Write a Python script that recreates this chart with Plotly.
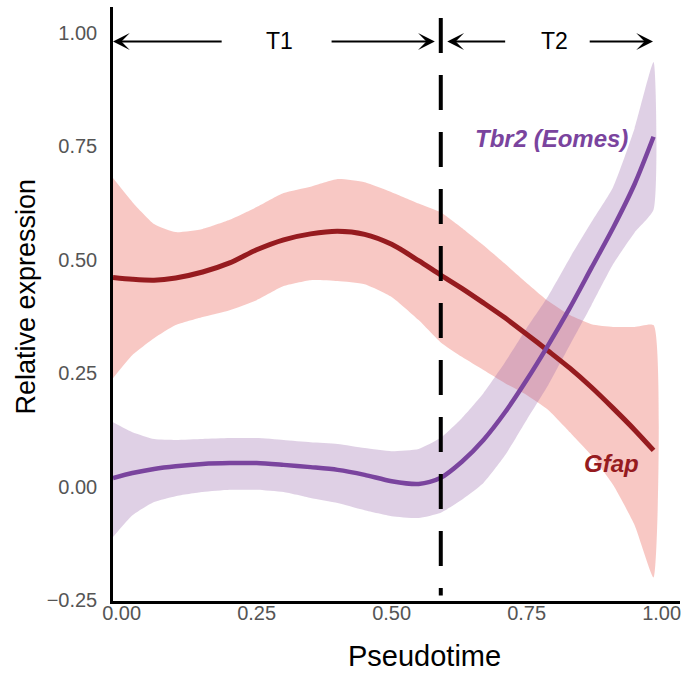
import plotly.graph_objects as go

# ---- data ----
pseudotime = [-0.016, 0.02, 0.06, 0.10, 0.15, 0.20, 0.25, 0.30, 0.35, 0.40, 0.45, 0.50,
              0.55, 0.59, 0.63, 0.67, 0.71, 0.75, 0.79, 0.83, 0.87, 0.91, 0.95, 0.985]

gfap_fit = [0.461, 0.457, 0.455, 0.460, 0.473, 0.493, 0.522, 0.544, 0.557, 0.563, 0.556, 0.534,
            0.498, 0.467, 0.437, 0.405, 0.372, 0.336, 0.299, 0.261, 0.219, 0.173, 0.125, 0.080]
gfap_hi = [0.680, 0.627, 0.579, 0.561, 0.568, 0.588, 0.616, 0.647, 0.661, 0.678, 0.671, 0.649,
           0.624, 0.605, 0.570, 0.532, 0.491, 0.449, 0.409, 0.378, 0.358, 0.352, 0.352, 0.356]
gfap_lo = [0.239, 0.290, 0.327, 0.356, 0.374, 0.389, 0.411, 0.442, 0.455, 0.453, 0.446, 0.418,
           0.367, 0.319, 0.286, 0.257, 0.228, 0.202, 0.169, 0.120, 0.069, 0.004, -0.085, -0.200]

tbr2_fit = [0.019, 0.030, 0.039, 0.045, 0.050, 0.052, 0.052, 0.048, 0.043, 0.037, 0.026, 0.012,
            0.006, 0.019, 0.055, 0.103, 0.164, 0.235, 0.312, 0.394, 0.482, 0.570, 0.667, 0.771]
tbr2_hi = [0.142, 0.120, 0.105, 0.103, 0.105, 0.107, 0.107, 0.103, 0.098, 0.094, 0.085, 0.078,
           0.083, 0.107, 0.151, 0.206, 0.274, 0.349, 0.420, 0.504, 0.583, 0.660, 0.790, 0.936]
tbr2_lo = [-0.111, -0.063, -0.034, -0.021, -0.012, -0.007, -0.007, -0.012, -0.025, -0.036, -0.052, -0.065,
           -0.069, -0.058, -0.029, 0.008, 0.069, 0.147, 0.224, 0.312, 0.400, 0.490, 0.560, 0.610]

split_x = 0.591          # T1 / T2 boundary
x_ticks = [0.0, 0.25, 0.5, 0.75, 1.0]
y_ticks = [-0.25, 0.0, 0.25, 0.5, 0.75, 1.0]
tick_text_x = ["0.00", "0.25", "0.50", "0.75", "1.00"]
tick_text_y = ["\u22120.25", "0.00", "0.25", "0.50", "0.75", "1.00"]

GFAP_LINE = "#961B1F"
GFAP_FILL = "rgba(238,118,108,0.40)"
TBR2_LINE = "#7A449E"
TBR2_FILL = "rgba(148,98,168,0.30)"
FONT = "Liberation Sans, Arial, Helvetica, sans-serif"

fig = go.Figure()

def ribbon(x, lo, hi, color):
    fig.add_trace(go.Scatter(x=x + x[::-1], y=hi + lo[::-1], mode="lines",
                             line=dict(width=0, shape="spline", smoothing=0.5),
                             fill="toself", fillcolor=color, hoverinfo="skip",
                             showlegend=False))

ribbon(pseudotime, gfap_lo, gfap_hi, GFAP_FILL)
ribbon(pseudotime, tbr2_lo, tbr2_hi, TBR2_FILL)

fig.add_trace(go.Scatter(x=pseudotime, y=gfap_fit, mode="lines", name="Gfap",
                         line=dict(color=GFAP_LINE, width=5, shape="spline", smoothing=0.8),
                         showlegend=False))
fig.add_trace(go.Scatter(x=pseudotime, y=tbr2_fit, mode="lines", name="Tbr2 (Eomes)",
                         line=dict(color=TBR2_LINE, width=4.5, shape="spline", smoothing=0.8),
                         showlegend=False))

# dashed boundary line
fig.add_shape(type="line", xref="x", yref="y", x0=split_x, x1=split_x, y0=1.033, y1=-0.24,
              line=dict(color="black", width=4, dash="35px,22px"))

arrow_y = 0.981
arrows = [(-0.016, 0.188), (0.580, 0.386), (0.603, 0.713), (0.984, 0.864)]
for tip, tail in arrows:
    fig.add_annotation(x=tip, y=arrow_y, ax=tail, ay=arrow_y, xref="x", yref="y",
                       axref="x", ayref="y", text="", showarrow=True, arrowhead=3,
                       arrowsize=1.4, arrowwidth=2, arrowcolor="black", standoff=0)

fig.add_annotation(x=0.293, y=arrow_y, text="T1", showarrow=False, xref="x", yref="y",
                   font=dict(family=FONT, size=23, color="black"))
fig.add_annotation(x=0.802, y=arrow_y, text="T2", showarrow=False, xref="x", yref="y",
                   font=dict(family=FONT, size=23, color="black"))

fig.add_annotation(x=0.796, y=0.768, text="<b><i>Tbr2 (Eomes)</i></b>", showarrow=False,
                   xref="x", yref="y", font=dict(family=FONT, size=24, color=TBR2_LINE))
fig.add_annotation(x=0.907, y=0.052, text="<b><i>Gfap</i></b>", showarrow=False,
                   xref="x", yref="y", font=dict(family=FONT, size=24, color=GFAP_LINE))

# axis titles
fig.add_annotation(x=0.5617, y=0, xref="x", yref="paper", yshift=-55, yanchor="middle",
                   xanchor="center", text="Pseudotime",
                   showarrow=False, font=dict(family=FONT, size=29, color="black"))
fig.add_annotation(x=0, y=0.419, xref="paper", yref="y", xshift=-87, xanchor="center",
                   yanchor="middle", text="Relative expression",
                   textangle=-90, showarrow=False, font=dict(family=FONT, size=27, color="black"))

fig.update_xaxes(range=[-0.016, 1.034], tickvals=x_ticks, ticktext=tick_text_x,
                 showgrid=False, zeroline=False, showline=True, linecolor="black", linewidth=2.5,
                 ticks="", ticklen=0, ticklabelstandoff=-8,
                 tickfont=dict(family=FONT, size=20, color="#555555"))
fig.update_yaxes(range=[-0.252, 1.057], tickvals=y_ticks, ticktext=tick_text_y,
                 showgrid=False, zeroline=False, showline=True, linecolor="black", linewidth=2.5,
                 ticks="", ticklen=0, ticklabelstandoff=9,
                 tickfont=dict(family=FONT, size=20, color="#555555"))

fig.update_layout(width=685, height=674, margin=dict(l=113, r=5, t=7, b=73, autoexpand=False),
                  plot_bgcolor="white", paper_bgcolor="white", showlegend=False)

fig.write_html("out.html", config={"displayModeBar": False},
               post_script="document.body.style.margin='0';")
